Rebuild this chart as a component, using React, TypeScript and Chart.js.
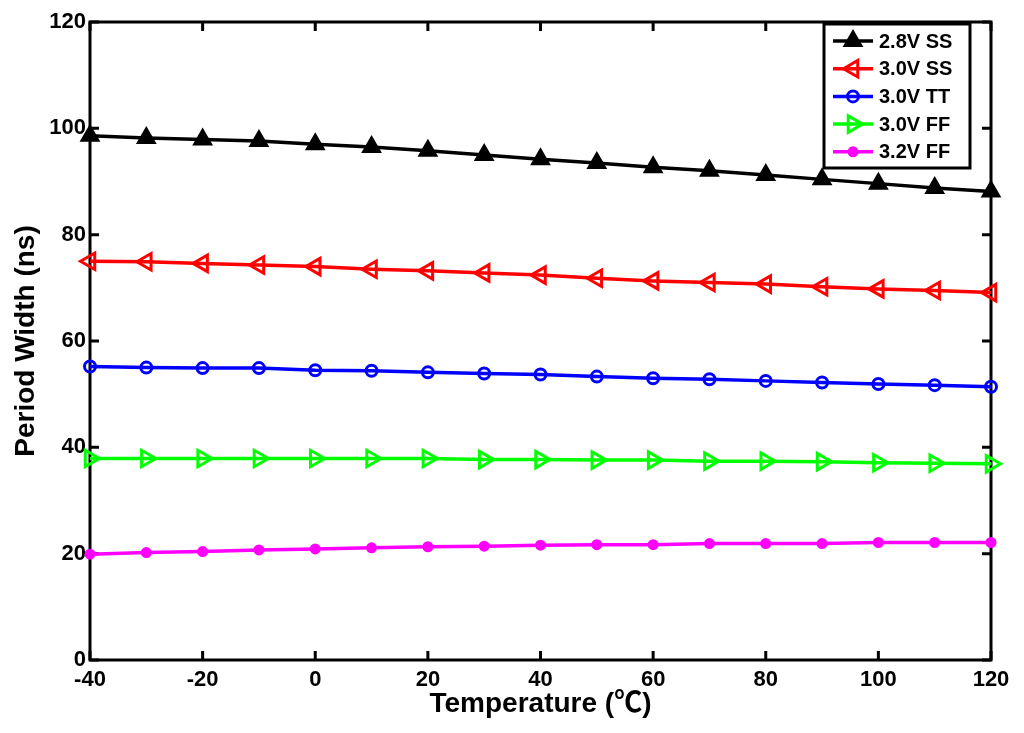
import React, { useEffect, useRef } from "react";
import { Chart, registerables } from "chart.js";
import { drawPoint } from "chart.js/helpers";

Chart.register(...registerables);

const temperatures = [-40, -30, -20, -10, 0, 10, 20, 30, 40, 50, 60, 70, 80, 90, 100, 110, 120];
const ss28 = [98.6, 98.2, 97.9, 97.6, 97.0, 96.5, 95.8, 95.0, 94.2, 93.5, 92.7, 92.0, 91.2, 90.4, 89.6, 88.8, 88.1];
const ss30 = [75.0, 74.9, 74.6, 74.3, 74.0, 73.5, 73.2, 72.8, 72.4, 71.8, 71.3, 71.0, 70.7, 70.2, 69.8, 69.5, 69.1];
const tt30 = [55.2, 55.0, 54.9, 54.9, 54.5, 54.4, 54.1, 53.9, 53.7, 53.3, 53.0, 52.8, 52.5, 52.2, 51.9, 51.7, 51.4];
const ff30 = [37.9, 37.9, 37.9, 37.9, 37.9, 37.9, 37.9, 37.7, 37.7, 37.6, 37.6, 37.4, 37.4, 37.3, 37.1, 37.0, 36.9];
const ff32 = [19.9, 20.2, 20.4, 20.7, 20.9, 21.1, 21.3, 21.4, 21.6, 21.7, 21.7, 21.9, 21.9, 21.9, 22.1, 22.1, 22.1];

const seriesLabels = ["2.8V SS", "3.0V SS", "3.0V TT", "3.0V FF", "3.2V FF"];
const xRange = [-40, 120];
const yRange = [0, 120];
const tickStep = 20;

const FONT = "'Liberation Sans', 'Noto Sans CJK SC', sans-serif";

const toPoints = (vals: number[]) => vals.map((v, i) => ({ x: temperatures[i], y: v }));

const frame = {
  id: "frame",
  beforeDatasetsDraw(chart: any) {
    const { ctx, chartArea: a, scales } = chart;
    ctx.save();
    ctx.strokeStyle = "#000";
    ctx.lineWidth = 3;
    ctx.lineCap = "butt";
    ctx.strokeRect(a.left, a.top, a.right - a.left, a.bottom - a.top);
    const L = 9;
    ctx.beginPath();
    scales.x.ticks.forEach((t: any) => {
      const px = scales.x.getPixelForValue(t.value);
      ctx.moveTo(px, a.bottom);
      ctx.lineTo(px, a.bottom - L);
      ctx.moveTo(px, a.top);
      ctx.lineTo(px, a.top + L);
    });
    scales.y.ticks.forEach((t: any) => {
      const py = scales.y.getPixelForValue(t.value);
      ctx.moveTo(a.left, py);
      ctx.lineTo(a.left + L, py);
      ctx.moveTo(a.right, py);
      ctx.lineTo(a.right - L, py);
    });
    ctx.stroke();
    ctx.restore();
  },
};

const legendBox = {
  id: "legendBox",
  afterDraw(chart: any) {
    const { ctx, chartArea: a } = chart;
    const left = a.right - 167;
    const top = a.top + 2;
    const w = 146;
    const h = 144;
    ctx.save();
    ctx.fillStyle = "#fff";
    ctx.fillRect(left, top, w, h);
    ctx.strokeStyle = "#000";
    ctx.lineWidth = 3;
    ctx.strokeRect(left, top, w, h);
    chart.data.datasets.forEach((ds: any, i: number) => {
      const y = top + 17 + i * 27.7;
      ctx.strokeStyle = ds.borderColor;
      ctx.lineWidth = ds.borderWidth;
      ctx.beginPath();
      ctx.moveTo(left + 9, y);
      ctx.lineTo(left + 49, y);
      ctx.stroke();
      ctx.fillStyle = ds.pointBackgroundColor;
      ctx.strokeStyle = ds.pointBorderColor;
      ctx.lineWidth = ds.pointBorderWidth;
      drawPoint(
        ctx,
        {
          pointStyle: ds.pointStyle,
          rotation: ds.pointRotation || 0,
          radius: ds.pointRadius,
          borderWidth: ds.pointBorderWidth,
        } as any,
        left + 29,
        y
      );
      ctx.fillStyle = "#000";
      ctx.font = `bold 20px ${FONT}`;
      ctx.textBaseline = "middle";
      ctx.textAlign = "left";
      ctx.fillText(ds.label, left + 55, y + 1);
    });
    ctx.restore();
  },
};

export default function App() {
  const ref = useRef<HTMLCanvasElement>(null);
  useEffect(() => {
    document.body.style.margin = "0";
    const canvas = ref.current!;
    const mk = (
      label: string,
      vals: number[],
      color: string,
      style: string,
      radius: number,
      fill: string,
      rot = 0
    ) => ({
      label,
      data: toPoints(vals),
      borderColor: color,
      backgroundColor: color,
      borderWidth: 3.5,
      pointStyle: style,
      pointRotation: rot,
      pointRadius: radius,
      pointHoverRadius: radius,
      pointBackgroundColor: fill,
      pointBorderColor: color,
      pointBorderWidth: 3,
      tension: 0,
      clip: false as any,
    });
    const chart = new Chart(canvas, {
      type: "line",
      data: {
        datasets: [
          mk(seriesLabels[0], ss28, "#000000", "triangle", 9, "#000000"),
          mk(seriesLabels[1], ss30, "#ff0000", "triangle", 9.5, "rgba(255,255,255,0)", -90),
          mk(seriesLabels[2], tt30, "#0000ff", "circle", 5.5, "rgba(255,255,255,0)"),
          mk(seriesLabels[3], ff30, "#00ff00", "triangle", 9.5, "rgba(255,255,255,0)", 90),
          mk(seriesLabels[4], ff32, "#ff00ff", "circle", 4, "#ff00ff"),
        ],
      },
      options: {
        animation: false,
        responsive: false,
        maintainAspectRatio: false,
        layout: { padding: { left: 0, top: 22, right: 33, bottom: 0 } },
        plugins: {
          legend: { display: false },
          tooltip: { enabled: false },
        },
        scales: {
          x: {
            type: "linear",
            min: xRange[0],
            max: xRange[1],
            grid: { display: false, drawTicks: false },
            border: { display: false },
            ticks: {
              stepSize: tickStep,
              padding: 7,
              color: "#000",
              font: { family: FONT, size: 22, weight: "bold" },
            },
            title: {
              display: true,
              text: "Temperature (℃)",
              color: "#000",
              font: { family: FONT, size: 28, weight: "bold" },
              padding: { top: 0, bottom: 12 },
            },
            afterFit: (s: any) => {
              s.height = 73;
            },
          },
          y: {
            type: "linear",
            min: yRange[0],
            max: yRange[1],
            grid: { display: false, drawTicks: false },
            border: { display: false },
            ticks: {
              stepSize: tickStep,
              padding: 4,
              color: "#000",
              font: { family: FONT, size: 22, weight: "bold" },
            },
            title: {
              display: true,
              text: "Period Width (ns)",
              color: "#000",
              font: { family: FONT, size: 28, weight: "bold" },
              padding: { top: 9, bottom: 0 },
            },
            afterFit: (s: any) => {
              s.width = 90;
            },
          },
        },
      } as any,
      plugins: [frame, legendBox],
    });
    return () => chart.destroy();
  }, []);
  return (
    <div style={{ position: "absolute", left: 0, top: 0, width: 1024, height: 733 }}>
      <canvas ref={ref} width={1024} height={733} style={{ width: 1024, height: 733 }} />
    </div>
  );
}
